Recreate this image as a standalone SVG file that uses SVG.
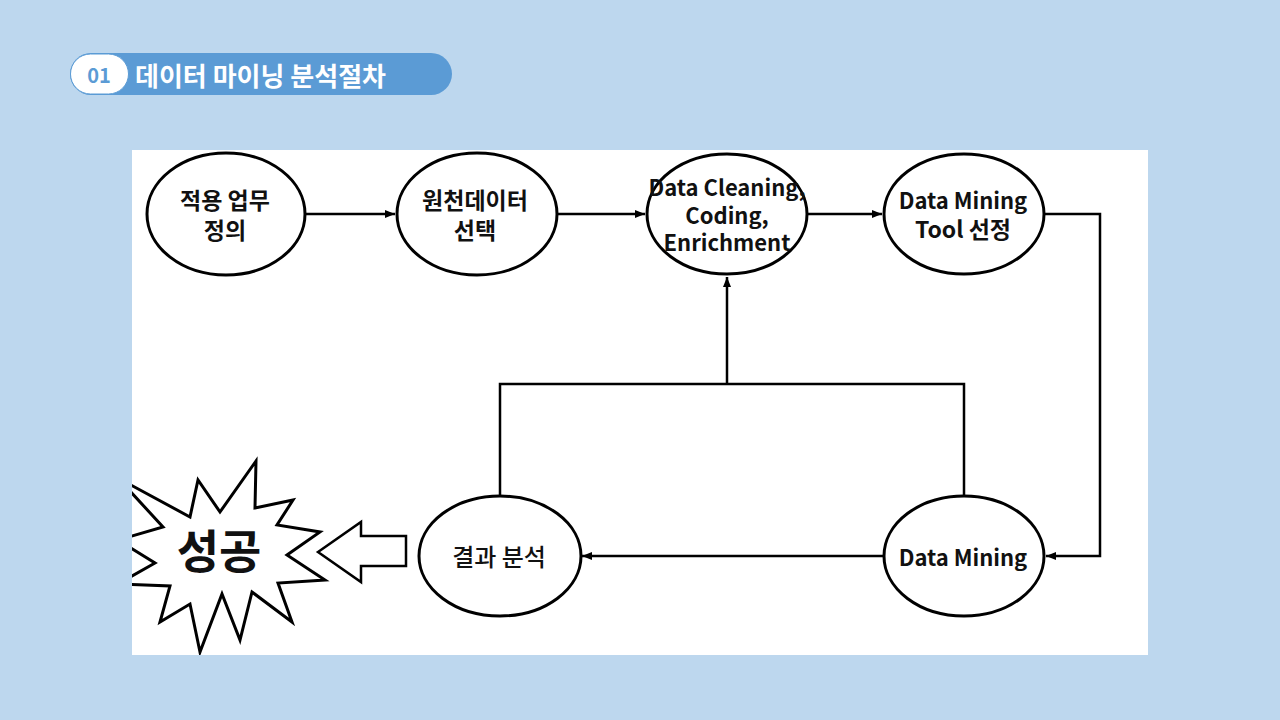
<svg xmlns="http://www.w3.org/2000/svg" width="1280" height="720" viewBox="0 0 1280 720">
<defs>
<style>
.node{fill:#fff;stroke:#000;stroke-width:3}
.lbl{font-family:"Noto Sans CJK KR","Liberation Sans",sans-serif;font-weight:bold;font-size:23px;fill:#111;text-anchor:middle;dominant-baseline:central}
.en{font-size:22px}
.conn{fill:none;stroke:#000;stroke-width:2.5}
</style>
<marker id="ah" markerWidth="10" markerHeight="8" refX="10" refY="4" orient="auto" markerUnits="userSpaceOnUse">
<path d="M0,0 L10,4 L0,8 Z" fill="#000"/>
</marker>
<clipPath id="panel"><rect x="132" y="150" width="1016" height="505"/></clipPath>
</defs>
<rect width="1280" height="720" fill="#BDD7EE"/>
<g id="title">
<rect x="70" y="53" width="382" height="42" rx="21" fill="#5B9BD5"/>
<rect x="70.5" y="54" width="58" height="40" rx="20" fill="#fff" stroke="#5B9BD5" stroke-width="1"/>
<text x="99" y="74" font-family="'Noto Sans CJK KR','Liberation Sans',sans-serif" font-weight="bold" font-size="20" fill="#5B9BD5" text-anchor="middle" dominant-baseline="central">01</text>
<text x="135" y="74" font-family="'Noto Sans CJK KR','Liberation Sans',sans-serif" font-weight="bold" font-size="26" fill="#fff" dominant-baseline="central">데이터 마이닝 분석절차</text>
</g>
<rect x="132" y="150" width="1016" height="505" fill="#fff"/>
<g id="connectors">
<path class="conn" d="M305,214 H395" marker-end="url(#ah)"/>
<path class="conn" d="M557,214 H645" marker-end="url(#ah)"/>
<path class="conn" d="M808,214 H882" marker-end="url(#ah)"/>
<path class="conn" d="M1044,214 H1100 V556 H1046" marker-end="url(#ah)"/>
<path class="conn" d="M884,556 H582" marker-end="url(#ah)"/>
<path class="conn" d="M500,496 V384 H964 V496"/>
<path class="conn" d="M727,384 V277" marker-end="url(#ah)"/>
</g>
<g id="n1"><ellipse class="node" cx="226" cy="214" rx="79" ry="61"/>
<text class="lbl" x="225" y="199">적용 업무</text><text class="lbl" x="225" y="229">정의</text></g>
<g id="n2"><ellipse class="node" cx="477" cy="214" rx="80" ry="61"/>
<text class="lbl" x="475" y="199">원천데이터</text><text class="lbl" x="475" y="229">선택</text></g>
<g id="n3"><ellipse class="node" cx="727" cy="214" rx="80" ry="60"/>
<text class="lbl en" x="727" y="186">Data Cleaning,</text><text class="lbl en" x="727" y="214">Coding,</text><text class="lbl en" x="727" y="241">Enrichment</text></g>
<g id="n4"><ellipse class="node" cx="964" cy="214" rx="80" ry="60"/>
<text class="lbl en" x="963" y="199">Data Mining</text><text class="lbl" x="963" y="228">Tool 선정</text></g>
<g id="n5"><ellipse class="node" cx="964" cy="556" rx="80" ry="60"/>
<text class="lbl en" x="963" y="556">Data Mining</text></g>
<g id="n6"><ellipse class="node" cx="500" cy="556" rx="81" ry="60"/>
<text class="lbl" x="499" y="555" style="font-weight:500;font-size:24px">결과 분석</text></g>
<g id="arrow-block">
<path d="M318,552 L361,522 V536 H406 V566 H361 V582 Z" fill="#fff" stroke="#000" stroke-width="2.5" stroke-linejoin="miter"/>
</g>
<g id="success">
<polygon clip-path="url(#panel)" fill="#fff" stroke="#000" stroke-width="3" stroke-linejoin="miter" points="118,478 190,517 198,480 220,512 256,461 255,508 293,500 277,525 320,532 287,555 325,580 278,583 292,622 252,592 240,640 222,594 200,652 190,604 160,622 170,586 118,584 155,563 118,540 163,527"/>
<text x="219" y="548" font-family="'Noto Sans CJK KR','Liberation Sans',sans-serif" font-weight="bold" font-size="46" fill="#111" text-anchor="middle" dominant-baseline="central">성공</text>
</g>
</svg>
